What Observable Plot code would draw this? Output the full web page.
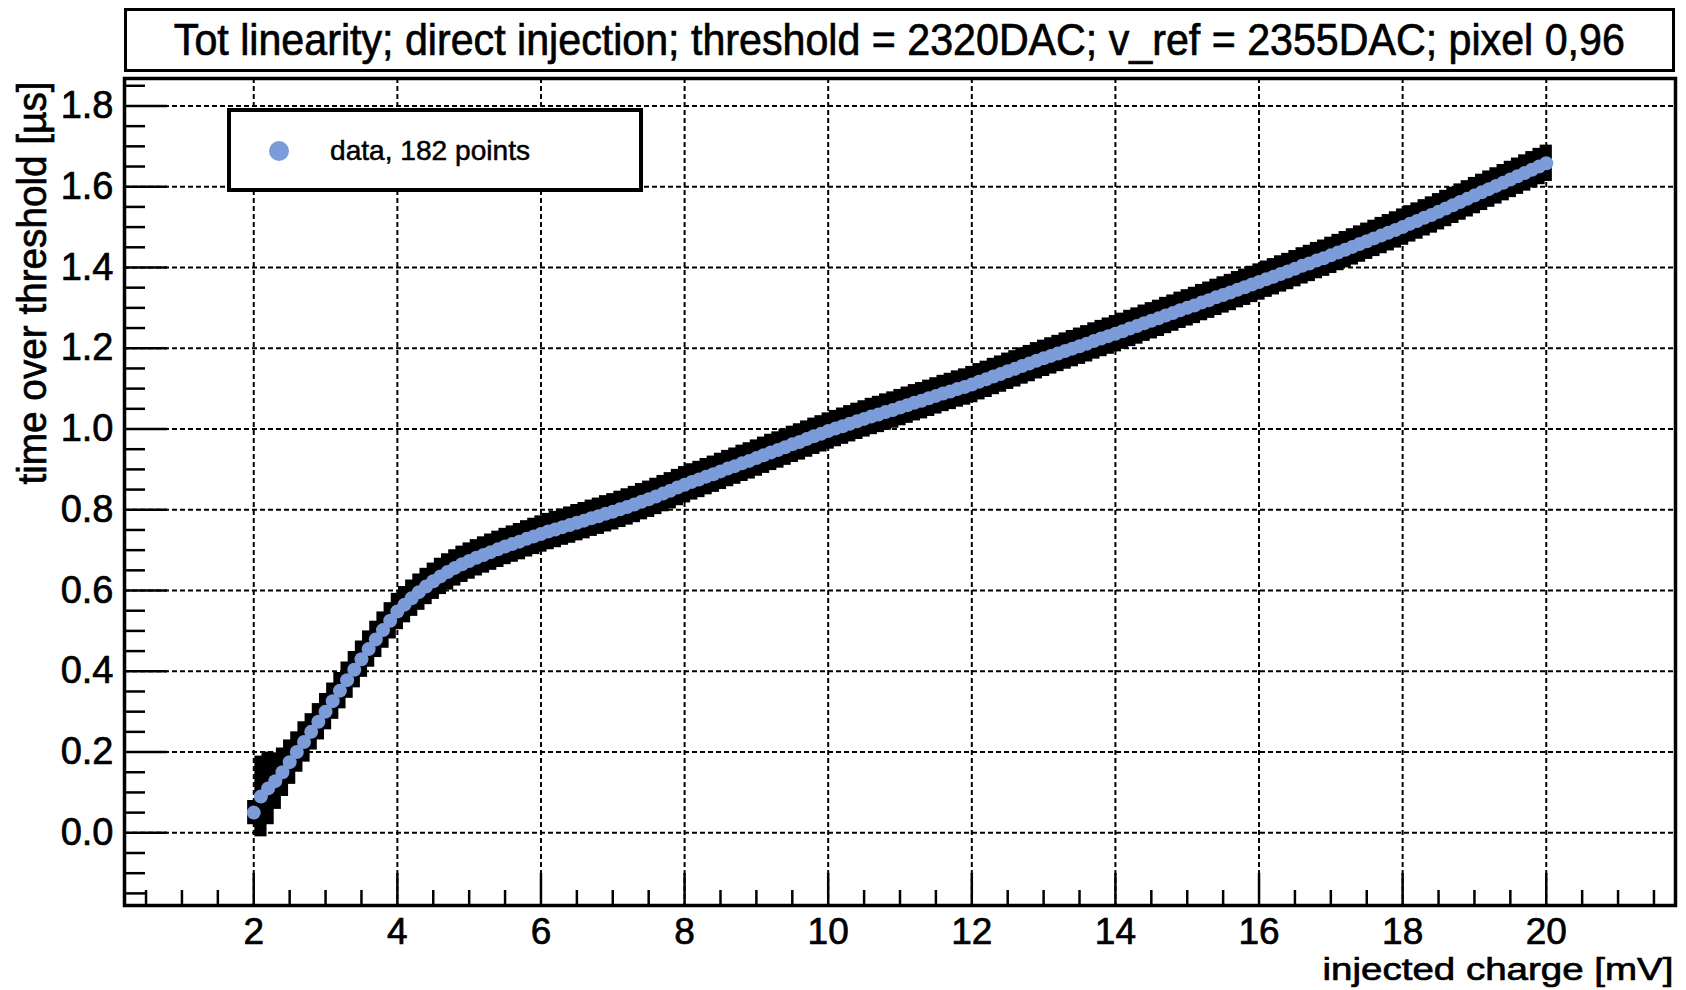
<!DOCTYPE html>
<html><head><meta charset="utf-8">
<script src="https://cdn.jsdelivr.net/npm/d3@7"></script>
<script src="https://cdn.jsdelivr.net/npm/@observablehq/plot@0.6"></script>
<style>
html,body{margin:0;padding:0;background:#fff;}
body{width:1686px;height:990px;overflow:hidden;font-family:"Liberation Sans",Arial,Helvetica,sans-serif;color:#000;}
#wrap{position:relative;width:1686px;height:990px;}
#titlebar{height:74px;position:relative;}
#titlebox{position:absolute;left:124px;top:8px;width:1551px;height:64px;box-sizing:border-box;border:3.5px solid #000;display:flex;align-items:center;justify-content:center;background:#fff;}
#titletext{display:inline-block;white-space:nowrap;font-size:44px;line-height:1;transform-origin:center center;-webkit-text-stroke:0.7px #000;}
#legend{position:absolute;left:227px;top:108px;width:416px;height:84px;box-sizing:border-box;border:4px solid #000;background:#fff;}
#legdot{position:absolute;left:38px;top:29px;width:20px;height:20px;border-radius:50%;}
#legtext{position:absolute;left:99px;top:25px;font-size:28px;line-height:28px;white-space:nowrap;transform-origin:left center;-webkit-text-stroke:0.5px #000;}
#chart svg{display:block;}
#chart svg text{stroke:#000;stroke-width:0.7px;}
</style>
</head><body>
<div id="wrap">
  <div id="titlebar"><div id="titlebox"><span id="titletext"></span></div></div>
  <div id="chart"></div>
  <div id="legend"><div id="legdot"></div><span id="legtext"></span></div>
</div>
<script>
// ---- data ----
const titleText = "Tot linearity; direct injection; threshold = 2320DAC; v_ref = 2355DAC; pixel 0,96";
const xLabel = "injected charge [mV]";
const yLabel = "time over threshold [µs]";
const legendLabel = "data, 182 points";

const xValues = [
  2.0,2.1,2.2,2.3,2.4,2.5,2.6,2.7,2.8,2.9,
  3.0,3.1,3.2,3.3,3.4,3.5,3.6,3.7,3.8,3.9,
  4.0,4.1,4.2,4.3,4.4,4.5,4.6,4.7,4.8,4.9,
  5.0,5.1,5.2,5.3,5.4,5.5,5.6,5.7,5.8,5.9,
  6.0,6.1,6.2,6.3,6.4,6.5,6.6,6.7,6.8,6.9,
  7.0,7.1,7.2,7.3,7.4,7.5,7.6,7.7,7.8,7.9,
  8.0,8.1,8.2,8.3,8.4,8.5,8.6,8.7,8.8,8.9,
  9.0,9.1,9.2,9.3,9.4,9.5,9.6,9.7,9.8,9.9,
  10.0,10.1,10.2,10.3,10.4,10.5,10.6,10.7,10.8,10.9,
  11.0,11.1,11.2,11.3,11.4,11.5,11.6,11.7,11.8,11.9,
  12.0,12.1,12.2,12.3,12.4,12.5,12.6,12.7,12.8,12.9,
  13.0,13.1,13.2,13.3,13.4,13.5,13.6,13.7,13.8,13.9,
  14.0,14.1,14.2,14.3,14.4,14.5,14.6,14.7,14.8,14.9,
  15.0,15.1,15.2,15.3,15.4,15.5,15.6,15.7,15.8,15.9,
  16.0,16.1,16.2,16.3,16.4,16.5,16.6,16.7,16.8,16.9,
  17.0,17.1,17.2,17.3,17.4,17.5,17.6,17.7,17.8,17.9,
  18.0,18.1,18.2,18.3,18.4,18.5,18.6,18.7,18.8,18.9,
  19.0,19.1,19.2,19.3,19.4,19.5,19.6,19.7,19.8,19.9,
  20.0
];
const yValues = [
  0.050,0.090,0.110,0.128,0.150,0.175,0.200,0.225,0.250,0.275,
  0.300,0.326,0.352,0.378,0.404,0.430,0.455,0.479,0.502,0.525,
  0.548,0.565,0.581,0.596,0.610,0.623,0.635,0.646,0.656,0.665,
  0.673,0.681,0.688,0.695,0.702,0.709,0.715,0.721,0.728,0.734,
  0.740,0.746,0.751,0.757,0.762,0.768,0.773,0.779,0.784,0.790,
  0.795,0.801,0.807,0.813,0.820,0.826,0.833,0.840,0.847,0.855,
  0.862,0.869,0.875,0.882,0.888,0.895,0.902,0.908,0.915,0.921,
  0.928,0.935,0.942,0.948,0.955,0.962,0.968,0.975,0.982,0.988,
  0.995,1.001,1.007,1.013,1.019,1.025,1.031,1.036,1.042,1.047,
  1.053,1.059,1.065,1.070,1.076,1.082,1.088,1.093,1.099,1.104,
  1.110,1.117,1.123,1.130,1.136,1.143,1.149,1.156,1.162,1.169,
  1.175,1.181,1.187,1.193,1.199,1.205,1.211,1.218,1.224,1.230,
  1.236,1.242,1.249,1.255,1.262,1.268,1.274,1.281,1.287,1.294,
  1.300,1.306,1.313,1.319,1.326,1.332,1.338,1.345,1.351,1.358,
  1.364,1.371,1.377,1.384,1.390,1.397,1.404,1.410,1.417,1.423,
  1.430,1.437,1.444,1.451,1.458,1.465,1.472,1.479,1.486,1.493,
  1.500,1.508,1.515,1.523,1.530,1.538,1.546,1.554,1.562,1.570,
  1.578,1.586,1.594,1.602,1.610,1.618,1.626,1.634,1.642,1.650,
  1.658
];
const yErrors = [
  0.03,0.10,0.09,0.07,0.06,0.055,0.05,0.05,0.045,0.045,
  0.045,0.045,0.045,0.045,0.045,0.045,0.045,0.045,0.045,0.045,
  0.045,0.045,0.045,0.045,0.045,0.045,0.045,0.045,0.045,0.045,
  0.045,0.045,0.045,0.045,0.045,0.045,0.045,0.045,0.045,0.045,
  0.045,0.045,0.045,0.045,0.045,0.045,0.045,0.045,0.045,0.045,
  0.045,0.045,0.045,0.045,0.045,0.045,0.045,0.045,0.045,0.045,
  0.045,0.045,0.045,0.045,0.045,0.045,0.045,0.045,0.045,0.045,
  0.045,0.045,0.045,0.045,0.045,0.045,0.045,0.045,0.045,0.045,
  0.045,0.045,0.045,0.045,0.045,0.045,0.045,0.045,0.045,0.045,
  0.045,0.045,0.045,0.045,0.045,0.045,0.045,0.045,0.045,0.045,
  0.045,0.045,0.045,0.045,0.045,0.045,0.045,0.045,0.045,0.045,
  0.045,0.045,0.045,0.045,0.045,0.045,0.045,0.045,0.045,0.045,
  0.045,0.045,0.045,0.045,0.045,0.045,0.045,0.045,0.045,0.045,
  0.045,0.045,0.045,0.045,0.045,0.045,0.045,0.045,0.045,0.045,
  0.045,0.045,0.045,0.045,0.045,0.045,0.045,0.045,0.045,0.045,
  0.045,0.045,0.045,0.045,0.045,0.045,0.045,0.045,0.045,0.045,
  0.045,0.045,0.045,0.045,0.045,0.045,0.045,0.045,0.045,0.045,
  0.045,0.045,0.045,0.045,0.045,0.045,0.045,0.045,0.045,0.045,
  0.045
];
const xError = 0.085;

const xMajor = [2,4,6,8,10,12,14,16,18,20];
const xMinor = [0.5,1,1.5,2.5,3,3.5,4.5,5,5.5,6.5,7,7.5,8.5,9,9.5,10.5,11,11.5,12.5,13,13.5,14.5,15,15.5,16.5,17,17.5,18.5,19,19.5,20.5,21,21.5];
const yMajor = [0,0.2,0.4,0.6,0.8,1.0,1.2,1.4,1.6,1.8];
const yMinor = [-0.15,-0.1,-0.05,0.05,0.1,0.15,0.25,0.3,0.35,0.45,0.5,0.55,0.65,0.7,0.75,0.85,0.9,0.95,1.05,1.1,1.15,1.25,1.3,1.35,1.45,1.5,1.55,1.65,1.7,1.75,1.85];
const xDomain = [0.2, 21.8];
const yDomain = [-0.18, 1.868];

// ---- styles ----
const blue = "#7b9bd9";
const fontFam = '"Liberation Sans", Arial, Helvetica, sans-serif';

const data = xValues.map((x, i) => ({x, y: yValues[i], e: yErrors[i]}));
const gridStyle = {stroke: "black", strokeOpacity: 1, strokeWidth: 2, strokeDasharray: "5,3"};

const chart = Plot.plot({
  width: 1686, height: 916,
  marginTop: 4, marginBottom: 85, marginLeft: 124, marginRight: 11,
  style: {fontFamily: fontFam, background: "white", color: "black", overflow: "visible"},
  x: {domain: xDomain, label: null},
  y: {domain: yDomain, label: null},
  marks: [
    Plot.gridX({ticks: xMajor, ...gridStyle}),
    Plot.gridY({ticks: yMajor, ...gridStyle}),
    Plot.rect(data, {x1: d => d.x - xError, x2: d => d.x + xError, y1: d => d.y - d.e, y2: d => d.y + d.e, fill: "black"}),
    Plot.dot(data, {x: "x", y: "y", r: 7, fill: blue, stroke: "none"}),
    Plot.axisX({ticks: xMinor, tickSize: -15, strokeWidth: 2.5, tickFormat: () => "", label: null}),
    Plot.axisX({ticks: xMajor, tickSize: -32, strokeWidth: 2.5, tickFormat: () => "", label: null}),
    Plot.axisX({ticks: xMajor, tickSize: 0, tickPadding: 12, fontSize: 37, tickFormat: d3.format("d"), label: null}),
    Plot.axisY({ticks: yMinor, tickSize: -21, strokeWidth: 2.5, tickFormat: () => "", label: null}),
    Plot.axisY({ticks: yMajor, tickSize: -43, strokeWidth: 2.5, tickFormat: () => "", label: null}),
    Plot.axisY({ticks: yMajor, tickSize: 0, tickPadding: 11, fontSize: 38, tickFormat: d3.format(".1f"), label: null}),
    Plot.frame({stroke: "black", strokeWidth: 3.5}),
    Plot.text([yLabel], {frameAnchor: "top-left", text: d => d, rotate: -90, textAnchor: "end", lineAnchor: "middle", dx: -91, dy: 3, fontSize: 40}),
    Plot.text([xLabel], {frameAnchor: "bottom-right", text: d => d, textAnchor: "end", lineAnchor: "middle", dx: -2, dy: 64, fontSize: 32})
  ]
});
document.getElementById("chart").appendChild(chart);

// fit label widths to the reference
chart.querySelectorAll("text").forEach(t => {
  if (t.textContent === yLabel) { t.setAttribute("textLength", 403); t.setAttribute("lengthAdjust", "spacingAndGlyphs"); }
  if (t.textContent === xLabel) { t.setAttribute("textLength", 351); t.setAttribute("lengthAdjust", "spacingAndGlyphs"); }
});

// title
const tt = document.getElementById("titletext");
tt.textContent = titleText;
const tw = tt.getBoundingClientRect().width;
tt.style.transform = `scaleX(${1451 / tw})`;

// legend
document.getElementById("legdot").style.background = blue;
const lt = document.getElementById("legtext");
lt.textContent = legendLabel;
const lw = lt.getBoundingClientRect().width;
lt.style.transform = `scaleX(${200 / lw})`;
</script>
</body></html>
